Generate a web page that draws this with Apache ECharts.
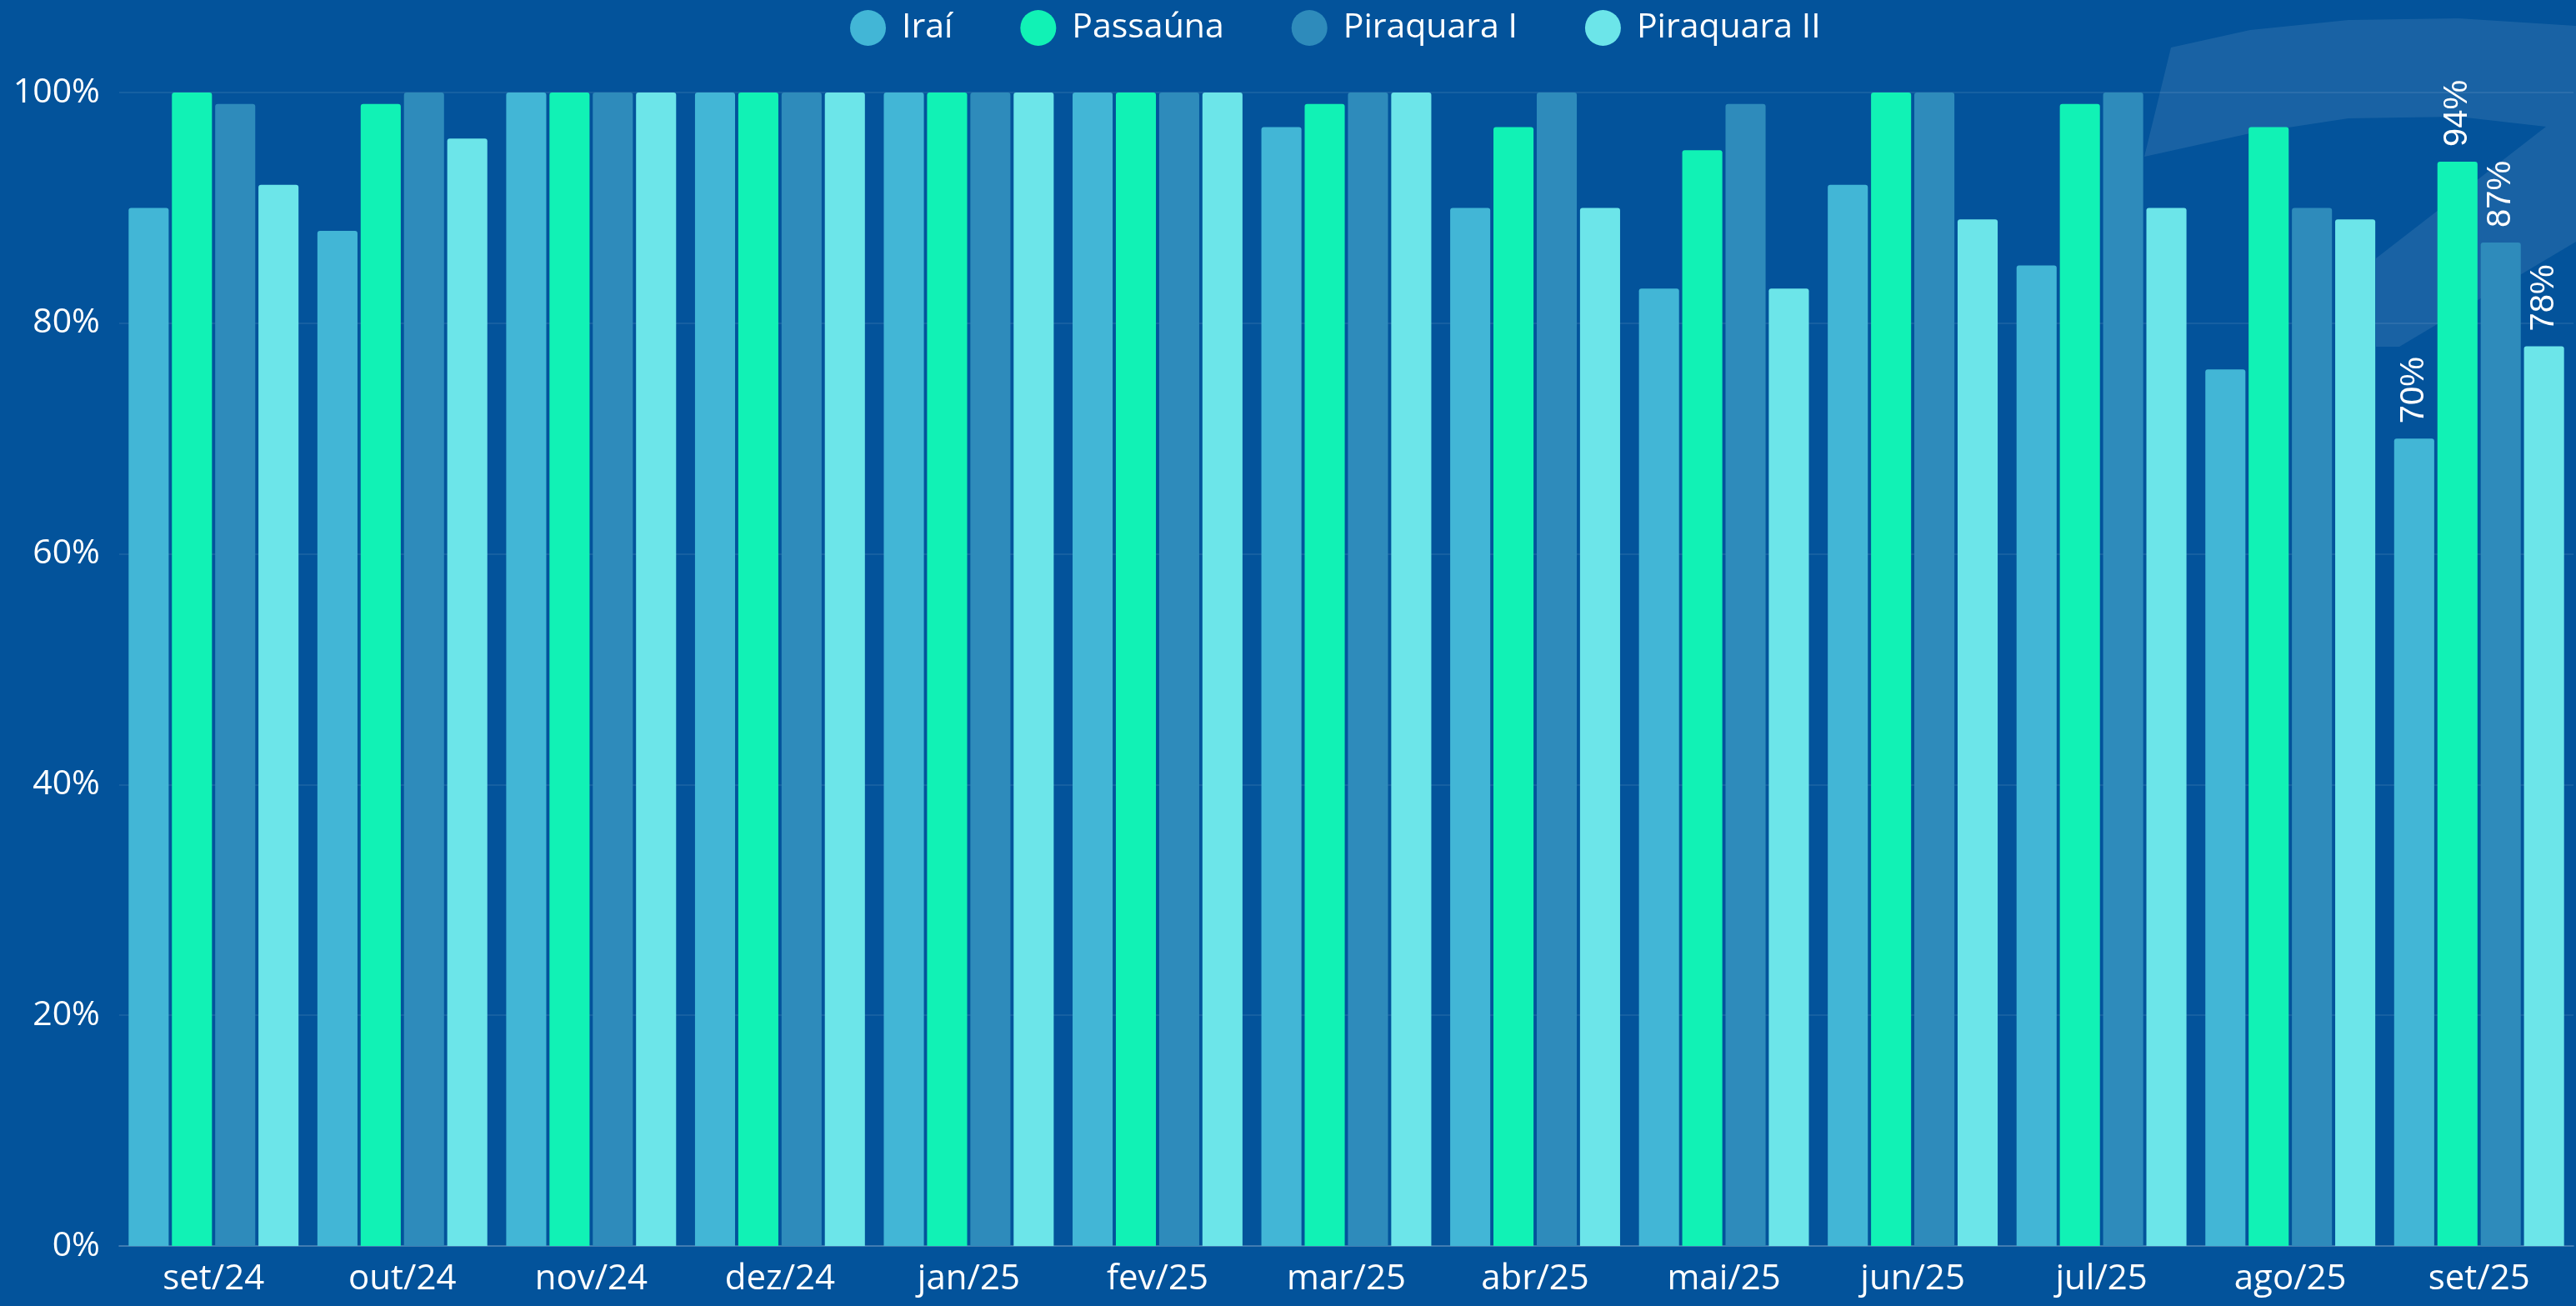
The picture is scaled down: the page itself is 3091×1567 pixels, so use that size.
<!DOCTYPE html>
<html>
<head>
<meta charset="utf-8">
<script src="https://cdn.jsdelivr.net/npm/echarts@6/dist/echarts.min.js"></script>
<style>
  html, body { margin: 0; padding: 0; background: #03539b; }
  #chart { width: 3091px; height: 1567px; }
</style>
</head>
<body>
<div id="chart"></div>
<script>
// meses
const months = ['set/24', 'out/24', 'nov/24', 'dez/24', 'jan/25', 'fev/25', 'mar/25', 'abr/25', 'mai/25', 'jun/25', 'jul/25', 'ago/25', 'set/25']

// % por represa
const irai = [90, 88, 100, 100, 100, 100, 97, 90, 83, 92, 85, 76, 70]
const passauna = [100, 99, 100, 100, 100, 100, 99, 97, 95, 100, 99, 97, 94]
const piraquara1 = [99, 100, 100, 100, 100, 100, 100, 100, 99, 100, 100, 90, 87]
const piraquara2 = [92, 96, 100, 100, 100, 100, 100, 90, 83, 89, 90, 89, 78]

const yTicks = [0, 20, 40, 60, 80, 100]

const names = ['Iraí', 'Passaúna', 'Piraquara I', 'Piraquara II']
const colors = ['#42b6d6', '#11f2b5', '#2e8bbb', '#6ce5e9']

var chart = echarts.init(document.getElementById('chart'))

// só o último mês leva rótulo
const withLastLabel = (arr) => arr.map((v, i) => (i === arr.length - 1 ? { value: v, label: { show: true } } : v))

const barSeries = (name, data, color) => ({
  name: name,
  type: 'bar',
  barGap: '8%',
  barCategoryGap: '10%',
  itemStyle: { color: color, borderRadius: [3, 3, 0, 0] },
  label: {
    show: false,
    position: 'top',
    rotate: 90,
    align: 'left',
    verticalAlign: 'middle',
    distance: 18,
    color: '#ffffff',
    fontFamily: 'Liberation Sans',
    fontSize: 40,
    formatter: '{c}%',
  },
  data: withLastLabel(data),
})

var option = {
  backgroundColor: '#03539b',
  textStyle: { fontFamily: 'Open Sans' },
  graphic: [
    {
      // marca d'água no canto
      type: 'polygon',
      z: -10,
      silent: true,
      shape: {
        points: [
          [2605, 57], [2700, 36], [2818, 24], [2950, 22], [3091, 31],
          [3091, 290], [2879, 416], [2851, 416], [2851, 310], [3055, 152],
          [2950, 140], [2818, 142], [2700, 160], [2573, 188],
        ],
      },
      style: { fill: 'rgba(255,255,255,0.09)' },
    },
  ],
  legend: {
    data: names,
    left: 1020,
    top: 12,
    padding: 0,
    icon: 'circle',
    itemWidth: 43,
    itemHeight: 43,
    itemGap: 81,
    textStyle: { color: '#ffffff', fontSize: 41, fontFamily: 'Open Sans', padding: [0, 0, 0, 14] },
  },
  grid: {
    left: 143,
    right: 3,
    top: 111,
    bottom: 72,
    containLabel: false,
    outerBoundsMode: 'none',
  },
  xAxis: {
    type: 'category',
    data: months,
    axisTick: { show: false },
    axisLine: { lineStyle: { color: 'rgba(255,255,255,0.18)', width: 2 } },
    axisLabel: { color: '#ffffff', fontSize: 42, margin: 19, fontFamily: 'Open Sans' },
  },
  yAxis: {
    type: 'value',
    min: yTicks[0],
    max: yTicks[yTicks.length - 1],
    interval: 20,
    axisLabel: { color: '#ffffff', fontSize: 41, margin: 23, formatter: '{value}%', fontFamily: 'Open Sans' },
    splitLine: { lineStyle: { color: 'rgba(255,255,255,0.08)', width: 2 } },
  },
  series: [
    barSeries(names[0], irai, colors[0]),
    barSeries(names[1], passauna, colors[1]),
    barSeries(names[2], piraquara1, colors[2]),
    barSeries(names[3], piraquara2, colors[3]),
  ],
}

option && chart.setOption(option)

window.addEventListener('resize', () => {
  chart.resize()
})
</script>
</body>
</html>
